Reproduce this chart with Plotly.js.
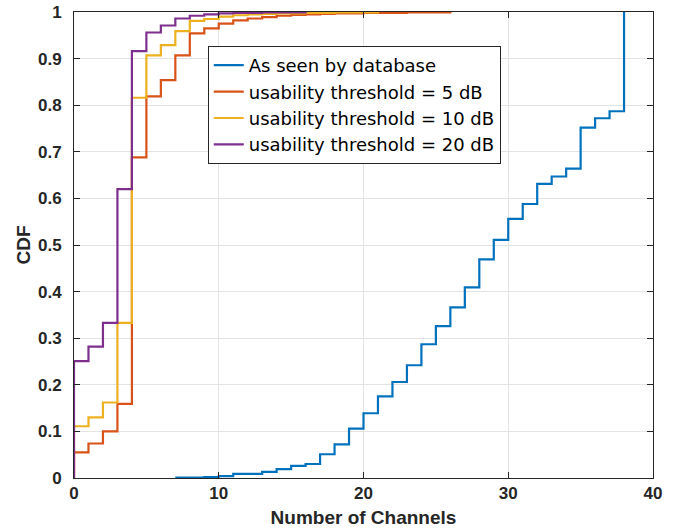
<!DOCTYPE html>
<html>
<head>
<meta charset="utf-8">
<script src="https://cdn.plot.ly/plotly-3.0.1.min.js"></script>
<style>html,body{margin:0;padding:0;background:#fff;}#chart{width:673px;height:531px;}</style>
</head>
<body>
<div id="chart"></div>
<script>
// Blue: as seen by database
const dbX = [7,8,9,10,11,12,13,14,15,16,17,18,19,20,21,22,23,24,25,26,27,28,29,30,31,32,33,34,35,36,37,38];
const dbY = [0.001,0.001,0.002,0.004,0.009,0.009,0.013,0.019,0.026,0.030,0.051,0.072,0.106,0.139,0.175,0.206,0.242,0.287,0.326,0.366,0.409,0.469,0.511,0.556,0.588,0.631,0.647,0.664,0.752,0.772,0.787,1];

// usability threshold = 5 dB
const t5X = [0,0,1,2,3,4,5,6,7,8,9,10,11,12,13,14,15,16,17,18,19,20,21,22,23,24,25,26];
const t5Y = [0,0.055,0.074,0.100,0.159,0.688,0.819,0.854,0.907,0.954,0.965,0.975,0.982,0.986,0.989,0.992,0.994,0.995,0.996,0.997,0.997,0.998,0.998,0.998,0.999,0.999,0.999,1];

// usability threshold = 10 dB
const t10X = [0,0,1,2,3,4,5,6,7,8,9,10,11,12,13,14,15,16,17,18,19,20,21];
const t10Y = [0,0.111,0.130,0.162,0.333,0.816,0.907,0.929,0.959,0.981,0.985,0.990,0.993,0.995,0.996,0.997,0.997,0.998,0.998,0.999,0.999,0.999,1];

// usability threshold = 20 dB
const t20X = [0,0,1,2,3,4,5,6,7,8,9,10,11,12,13,14,15,16];
const t20Y = [0,0.251,0.282,0.333,0.620,0.916,0.956,0.971,0.986,0.992,0.995,0.997,0.998,0.998,0.999,0.999,0.999,1];

const names = ['As seen by database','usability threshold = 5 dB','usability threshold = 10 dB','usability threshold = 20 dB'];
const colors = ['#0072BD','#D95319','#EDB120','#7E2F8E'];
const xs = [dbX,t5X,t10X,t20X];
const ys = [dbY,t5Y,t10Y,t20Y];

const traces = xs.map((x,i)=>({
  x: x, y: ys[i], type:'scatter', mode:'lines', name: names[i],
  line:{color:colors[i], width:2.2, shape:'hv'}
}));

const tickfont = {family:'Liberation Sans, Arial, sans-serif', size:17, color:'#262626', weight:'bold'};
const titlefont = {family:'Liberation Sans, Arial, sans-serif', size:19, color:'#262626', weight:'bold'};

const layout = {
  width:673, height:531,
  margin:{l:74, r:20, t:12, b:53},
  paper_bgcolor:'#fff', plot_bgcolor:'#fff',
  showlegend:true,
  legend:{
    x:0.231, y:0.927, xanchor:'left', yanchor:'top',
    bgcolor:'#fff', bordercolor:'#262626', borderwidth:1,
    font:{family:'DejaVu Sans, Liberation Sans, sans-serif', size:18, color:'#000'},
    traceorder:'normal', itemwidth:30
  },
  xaxis:{
    range:[0,40], dtick:10, tick0:0,
    showgrid:true, gridcolor:'#e3e3e3', gridwidth:1,
    zeroline:false, showline:true, linecolor:'#262626', linewidth:1, mirror:'ticks',
    ticks:'inside', ticklen:6, tickcolor:'#262626',
    tickfont:tickfont,
    title:{text:'Number of Channels', font:titlefont, standoff:8}
  },
  yaxis:{
    range:[0,1], dtick:0.1, tick0:0,
    showgrid:true, gridcolor:'#e3e3e3', gridwidth:1,
    zeroline:false, showline:true, linecolor:'#262626', linewidth:1, mirror:'ticks',
    ticks:'inside', ticklen:6, tickcolor:'#262626',
    tickfont:tickfont, ticklabelstandoff:8,
    title:{text:'CDF', font:titlefont, standoff:2}
  }
};

Plotly.newPlot('chart', traces, layout, {displayModeBar:false, staticPlot:true});
</script>
</body>
</html>
